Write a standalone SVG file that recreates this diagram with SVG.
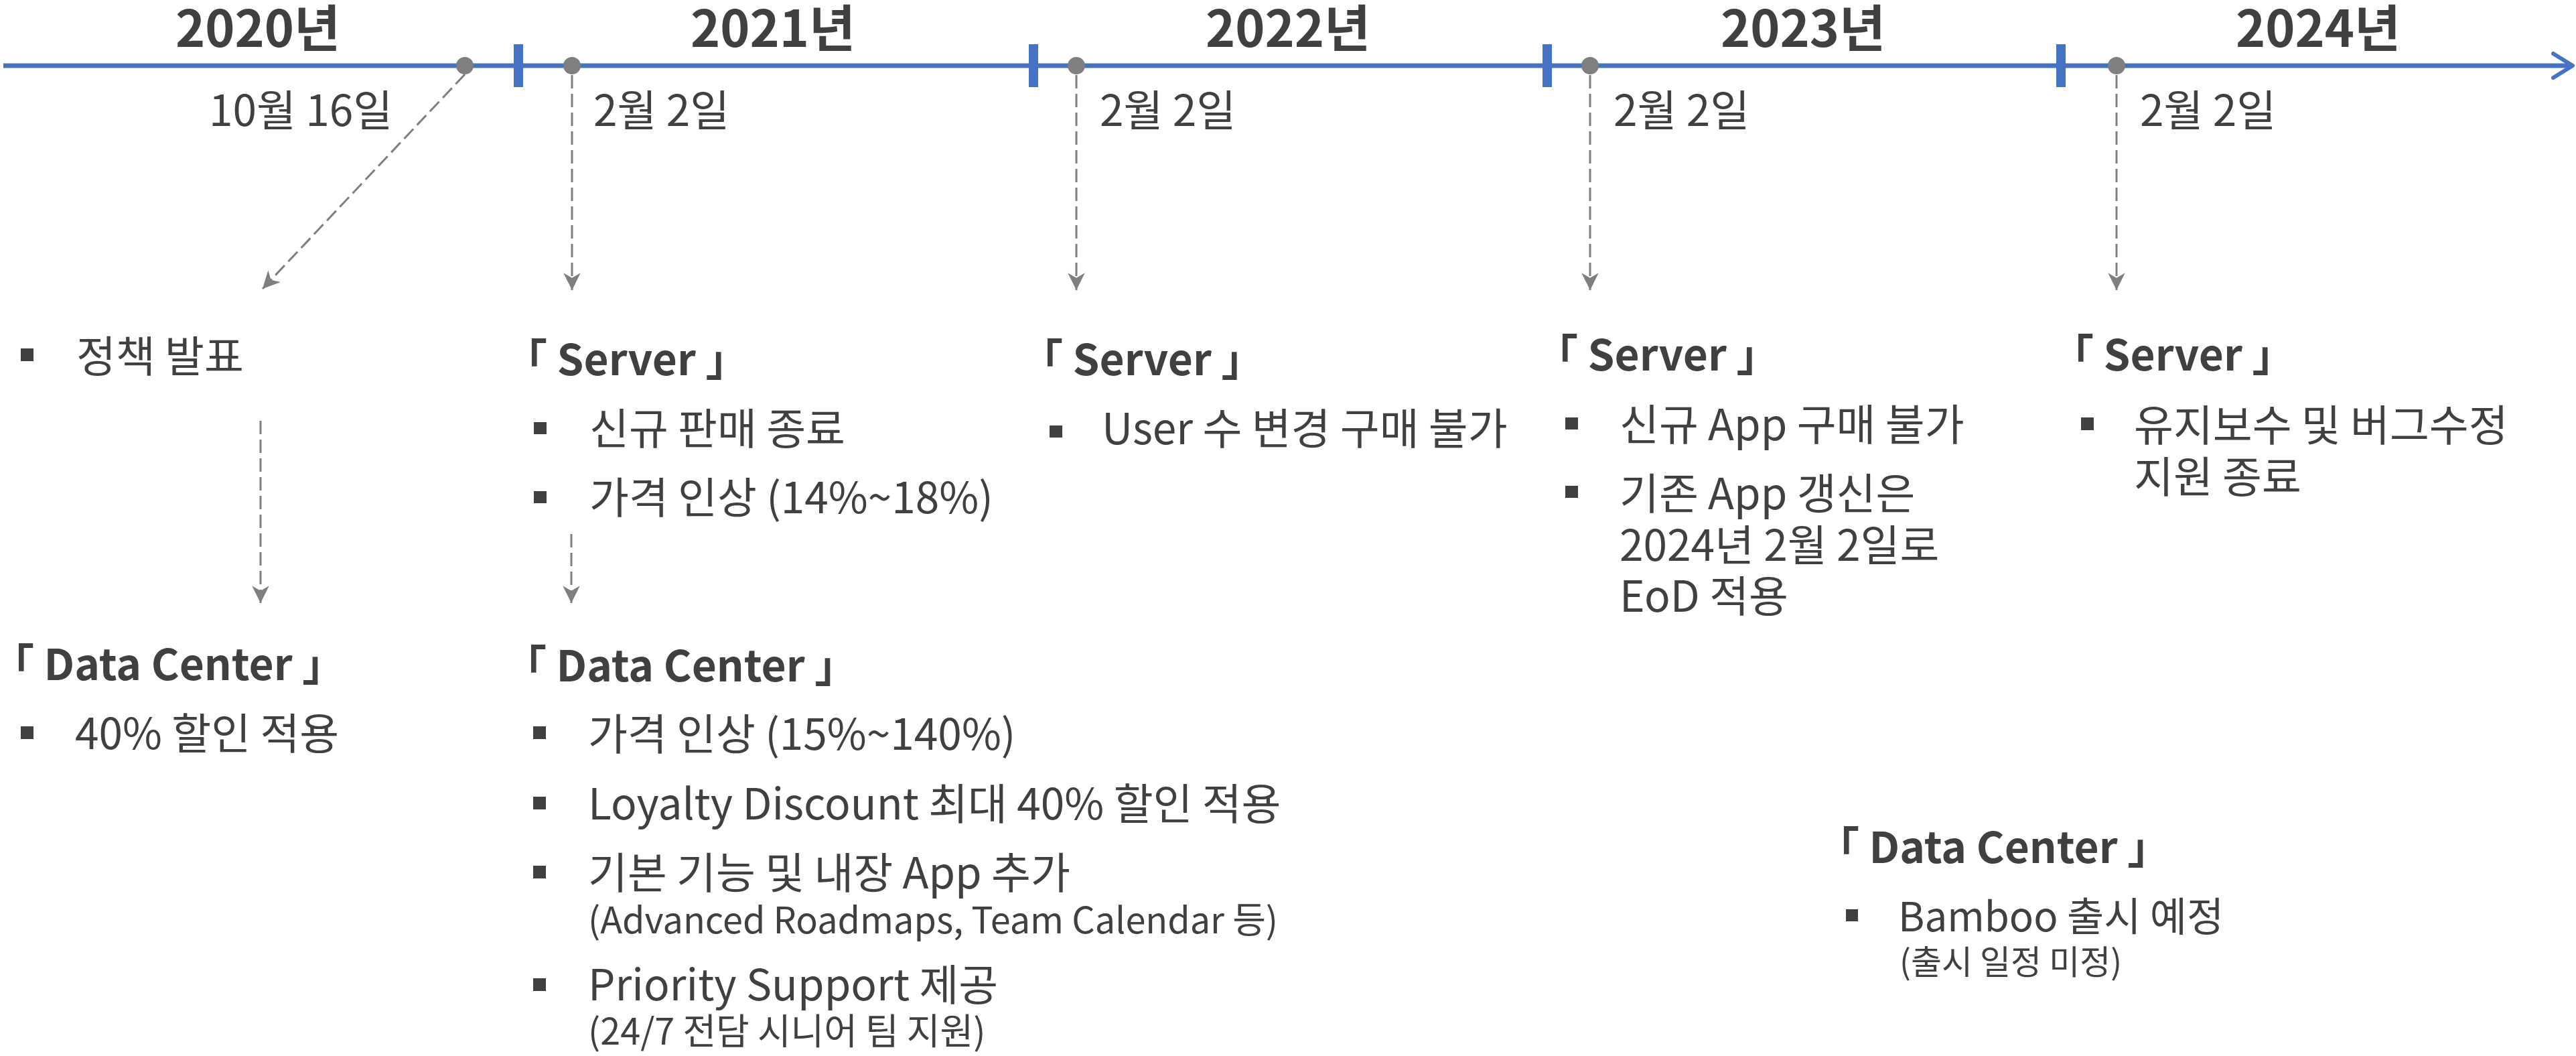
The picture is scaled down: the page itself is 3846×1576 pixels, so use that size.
<svg xmlns="http://www.w3.org/2000/svg" width="3846" height="1576" viewBox="0 0 3846 1576">
<style>
text{font-family:"Noto Sans CJK KR","Noto Sans",sans-serif;fill:#404040}
.yr{font-size:75px;font-weight:700;text-anchor:middle}
.dt{font-size:64px}
.hd{font-size:64px;font-weight:700}
.tx{font-size:64px}
.sb{font-size:54px}
.bl{fill:#404040}
.dash{fill:none;stroke:#7f7f7f;stroke-width:3;stroke-dasharray:20 8;marker-end:url(#ah)}
</style>
<defs>
<marker id="ah" markerUnits="userSpaceOnUse" markerWidth="30" markerHeight="30" viewBox="-26 -14 28 28" refX="0" refY="0" orient="auto">
<path d="M0,0 L-24,-12 L-17,0 L-24,12 Z" fill="#7f7f7f"/>
</marker>
</defs>
<rect width="3846" height="1576" fill="#ffffff"/>
<g id="timeline">
<line x1="5" y1="98" x2="3840" y2="98" stroke="#4472C4" stroke-width="7"/>
<polyline points="3812,80 3841,98 3812,116" fill="none" stroke="#4472C4" stroke-width="6" stroke-linecap="round" stroke-linejoin="round"/>
<rect x="767" y="66" width="14" height="64" fill="#4472C4"/>
<rect x="1536" y="66" width="14" height="64" fill="#4472C4"/>
<rect x="2303" y="66" width="14" height="64" fill="#4472C4"/>
<rect x="3070" y="66" width="14" height="64" fill="#4472C4"/>
<text class="yr" x="385" y="70">2020년</text>
<text class="yr" x="1154" y="70">2021년</text>
<text class="yr" x="1923" y="70">2022년</text>
<text class="yr" x="2692" y="70">2023년</text>
<text class="yr" x="3461" y="70">2024년</text>
</g>
<g id="connectors">
<path class="dash" d="M694,111 L392,431"/>
<path class="dash" d="M854,112 V433"/>
<path class="dash" d="M1607,112 V433"/>
<path class="dash" d="M2374,112 V433"/>
<path class="dash" d="M3160,112 V433"/>
<path class="dash" d="M389,628 V900"/>
<path class="dash" d="M853,797 V900"/>
</g>
<g id="events">
<circle cx="694" cy="98" r="13" fill="#7f7f7f"/>
<circle cx="854" cy="98" r="13" fill="#7f7f7f"/>
<circle cx="1607" cy="98" r="13" fill="#7f7f7f"/>
<circle cx="2374" cy="98" r="13" fill="#7f7f7f"/>
<circle cx="3160" cy="98" r="13" fill="#7f7f7f"/>
<text class="dt" x="312" y="188">10월 16일</text>
<text class="dt" x="886" y="188">2월 2일</text>
<text class="dt" x="1642" y="188">2월 2일</text>
<text class="dt" x="2409" y="188">2월 2일</text>
<text class="dt" x="3195" y="188">2월 2일</text>
</g>
<g id="n2020-policy">
<rect class="bl" x="31" y="520" width="19" height="19"/>
<text class="tx" x="114" y="555">정책 발표</text>
</g>
<g id="n2020-dc">
<text class="hd" x="-13" y="1015">「 Data Center 」</text>
<rect class="bl" x="31" y="1084" width="19" height="19"/>
<text class="tx" x="112" y="1118">40% 할인 적용</text>
</g>
<g id="n2021-server">
<text class="hd" x="753" y="560">「 Server 」</text>
<rect class="bl" x="797" y="630" width="19" height="18"/>
<text class="tx" x="880" y="663">신규 판매 종료</text>
<rect class="bl" x="797" y="733" width="19" height="18"/>
<text class="tx" x="880" y="766">가격 인상 (14%~18%)</text>
</g>
<g id="n2021-dc">
<text class="hd" x="752" y="1017">「 Data Center 」</text>
<rect class="bl" x="796" y="1084" width="19" height="19"/>
<text class="tx" x="878" y="1119">가격 인상 (15%~140%)</text>
<rect class="bl" x="796" y="1189" width="19" height="19"/>
<text class="tx" x="878" y="1223">Loyalty Discount 최대 40% 할인 적용</text>
<rect class="bl" x="796" y="1292" width="19" height="19"/>
<text class="tx" x="878" y="1326">기본 기능 및 내장 App 추가</text>
<text class="sb" x="878" y="1393">(Advanced Roadmaps, Team Calendar 등)</text>
<rect class="bl" x="796" y="1460" width="19" height="19"/>
<text class="tx" x="878" y="1493">Priority Support 제공</text>
<text class="sb" x="878" y="1559">(24/7 전담 시니어 팀 지원)</text>
</g>
<g id="n2022-server">
<text class="hd" x="1523" y="560">「 Server 」</text>
<rect class="bl" x="1567" y="635" width="19" height="18"/>
<text class="tx" x="1645" y="663">User 수 변경 구매 불가</text>
</g>
<g id="n2023-server">
<text class="hd" x="2292" y="553">「 Server 」</text>
<rect class="bl" x="2337" y="623" width="19" height="18"/>
<text class="tx" x="2418" y="657">신규 App 구매 불가</text>
<rect class="bl" x="2337" y="725" width="19" height="18"/>
<text class="tx" x="2418" y="760">기존 App 갱신은</text>
<text class="tx" x="2418" y="837">2024년 2월 2일로</text>
<text class="tx" x="2418" y="913">EoD 적용</text>
</g>
<g id="n2024-server">
<text class="hd" x="3062" y="553">「 Server 」</text>
<rect class="bl" x="3107" y="623" width="19" height="19"/>
<text class="tx" x="3186" y="658">유지보수 및 버그수정</text>
<text class="tx" x="3186" y="735">지원 종료</text>
</g>
<g id="n2024-dc">
<text class="hd" x="2712" y="1288">「 Data Center 」</text>
<rect class="bl" x="2756" y="1357" width="18" height="18"/>
<text class="tx" x="2834" y="1390" style="font-size:60px">Bamboo 출시 예정</text>
<text class="sb" x="2836" y="1454" style="font-size:50px">(출시 일정 미정)</text>
</g>
</svg>
